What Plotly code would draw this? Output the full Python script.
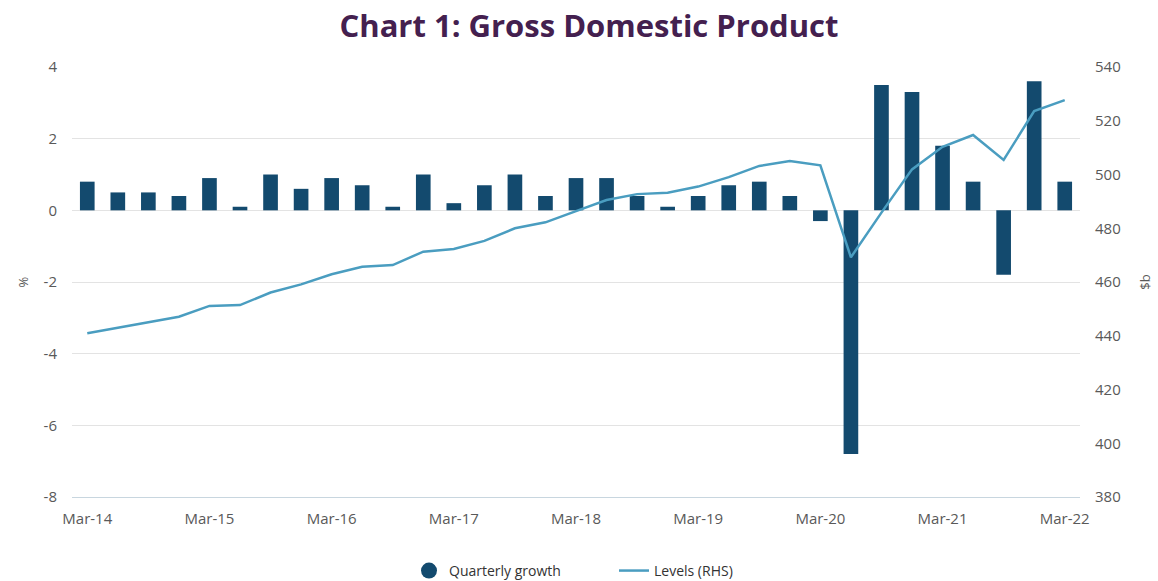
import plotly.graph_objects as go

# Quarter labels, Mar-14 to Mar-22
quarters = []
for yr in range(14, 23):
    for m in ["Mar", "Jun", "Sep", "Dec"]:
        quarters.append(f"{m}-{yr}")
quarters = quarters[: quarters.index("Mar-22") + 1]

x_tick_labels = [q for q in quarters if q.startswith("Mar")]
growth_ticks = [-8, -6, -4, -2, 0, 2, 4]
growth_tick_labels = ["-8", "-6", "-4", "-2", "0", "2", "4"]
level_ticks = [380, 400, 420, 440, 460, 480, 500, 520, 540]

# Quarterly growth, %
quarterly_growth = [
    0.8, 0.5, 0.5, 0.4, 0.9, 0.1, 1.0, 0.6, 0.9, 0.7, 0.1, 1.0,
    0.2, 0.7, 1.0, 0.4, 0.9, 0.9, 0.4, 0.1, 0.4, 0.7, 0.8, 0.4,
    -0.3, -6.8, 3.5, 3.3, 1.8, 0.8, -1.8, 3.6, 0.8,
]

# GDP levels, $b (right-hand scale)
levels = [
    440.9, 443.0, 445.2, 447.1, 451.1, 451.4, 456.1, 459.1, 462.9, 465.7, 466.3, 471.3,
    472.3, 475.3, 480.0, 482.2, 486.4, 490.5, 492.7, 493.2, 495.5, 499.0, 503.2, 505.0,
    503.4, 469.2, 485.8, 501.9, 510.3, 514.7, 505.4, 523.6, 527.7,
]

bar_color = "#134a6e"
line_color = "#4a9dc0"
text_color = "#595959"
grid_color = "#e3e3e3"

fig = go.Figure()

fig.add_trace(go.Bar(
    x=quarters, y=quarterly_growth, name="Quarterly growth",
    marker=dict(color=bar_color, line=dict(width=0)),
    showlegend=False, yaxis="y",
))

fig.add_trace(go.Scatter(
    x=quarters, y=levels, name="Levels (RHS)", mode="lines",
    line=dict(color=line_color, width=2.5), yaxis="y2", showlegend=False,
))

# Legend entries: round marker for the bars, short stroke for the line
fig.add_trace(go.Scatter(
    x=[None], y=[None], mode="markers", name="Quarterly growth",
    marker=dict(color=bar_color, size=20, symbol="circle"),
))
fig.add_trace(go.Scatter(
    x=[None], y=[None], mode="lines", name="Levels (RHS)",
    line=dict(color=line_color, width=2.5),
))

fig.update_layout(
    width=1158, height=581,
    margin=dict(l=72, r=78, t=67, b=84, autoexpand=False),
    paper_bgcolor="white", plot_bgcolor="white",
    font=dict(family="Open Sans, sans-serif", size=14, color=text_color),
    title=dict(
        text="<b>Chart 1: Gross Domestic Product</b>",
        x=589 / 1158, xanchor="center", y=1 - 26 / 581, yanchor="middle",
        font=dict(family="Open Sans, sans-serif", size=31, color="#44204f"),
    ),
    bargap=0.52,
    xaxis=dict(
        type="category", categoryorder="array", categoryarray=quarters,
        range=[-0.5, len(quarters) - 0.5],
        tickmode="array", tickvals=x_tick_labels, ticktext=x_tick_labels,
        showgrid=False, showline=True, linecolor="#c8d6df", linewidth=1,
        ticks="", ticklabelstandoff=8, tickfont=dict(size=15, color=text_color),
    ),
    yaxis=dict(
        range=[-8, 4], tickmode="array", tickvals=growth_ticks,
        ticktext=growth_tick_labels,
        showgrid=True, gridcolor=grid_color, gridwidth=1,
        zeroline=False, ticks="", ticklabelstandoff=14,
        tickfont=dict(size=15, color=text_color),
        title=dict(text="%", font=dict(size=13, color=text_color), standoff=12),
    ),
    yaxis2=dict(
        range=[380, 540], tickmode="array", tickvals=level_ticks,
        overlaying="y", side="right",
        showgrid=False, zeroline=False, ticks="", ticklabelstandoff=14,
        tickfont=dict(size=15, color=text_color),
        title=dict(text="$b", font=dict(size=13, color=text_color), standoff=21),
    ),
    legend=dict(
        orientation="h", x=(409 - 72) / 1008, xanchor="left",
        y=-0.172, yanchor="middle",
        font=dict(size=14, color="#333333"), itemwidth=30,
        entrywidth=160, entrywidthmode="pixels",
    ),
)

fig.write_html("out.html")
